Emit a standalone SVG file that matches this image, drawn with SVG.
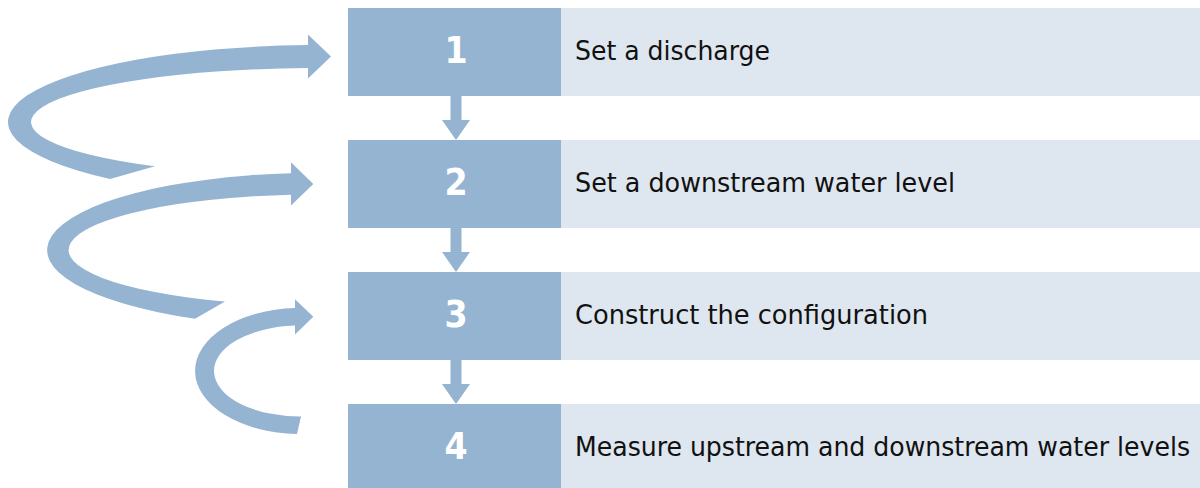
<svg xmlns="http://www.w3.org/2000/svg" width="1200" height="488" viewBox="0 0 1200 488">
<style>
.num{fill:#95b4d2}
.lbl{fill:#dee6ef}
.ntxt{font-family:"DejaVu Sans",sans-serif;font-stretch:condensed;font-weight:bold;font-size:37px;fill:#ffffff;text-anchor:middle}
.ltxt{font-family:"DejaVu Sans",sans-serif;font-stretch:condensed;font-size:26px;fill:#111111}
.arr{fill:#95b4d2}
</style>
<rect width="1200" height="488" fill="#ffffff"/>
<g id="connectors">
<path class="arr" d="M308 45.06 A312 77 0 0 0 110 178.95 L155 166.33 A289 54 0 0 1 308 68.05 L308 78.5 L331 56.5 L308 34.5 Z"/>
<path class="arr" d="M291 173.14 A273 77.3 0 0 0 195 318.7 L225 301.6 A251 55.7 0 0 1 291 194.67 L291 205.6 L313.3 183.9 L291 162.2 Z"/>
<path class="arr" d="M295 308.07 A105 63 0 0 0 297 433.97 L301 416.5 A86 45.5 0 0 1 295 325.58 L295 334.4 L313.3 316.8 L295 299.2 Z"/>
<path class="arr" d="M450.5 96 L461.5 96 L461.5 120 L470 120 L456 140 L442 120 L450.5 120 Z"/>
<path class="arr" d="M450.5 228 L461.5 228 L461.5 252 L470 252 L456 272 L442 252 L450.5 252 Z"/>
<path class="arr" d="M450.5 360 L461.5 360 L461.5 384 L470 384 L456 404 L442 384 L450.5 384 Z"/>
</g>
<g id="step1">
<rect class="num" x="348" y="8" width="213" height="88"/>
<rect class="lbl" x="561" y="8" width="639" height="88"/>
<text class="ntxt" x="456" y="63">1</text>
<text class="ltxt" x="575" y="60" textLength="195" lengthAdjust="spacingAndGlyphs">Set a discharge</text>
</g>
<g id="step2">
<rect class="num" x="348" y="140" width="213" height="88"/>
<rect class="lbl" x="561" y="140" width="639" height="88"/>
<text class="ntxt" x="456" y="195">2</text>
<text class="ltxt" x="575" y="192" textLength="380" lengthAdjust="spacingAndGlyphs">Set a downstream water level</text>
</g>
<g id="step3">
<rect class="num" x="348" y="272" width="213" height="88"/>
<rect class="lbl" x="561" y="272" width="639" height="88"/>
<text class="ntxt" x="456" y="327">3</text>
<text class="ltxt" x="575" y="324" textLength="353" lengthAdjust="spacingAndGlyphs">Construct the configuration</text>
</g>
<g id="step4">
<rect class="num" x="348" y="404" width="213" height="88"/>
<rect class="lbl" x="561" y="404" width="639" height="88"/>
<text class="ntxt" x="456" y="459">4</text>
<text class="ltxt" x="575" y="456" textLength="615" lengthAdjust="spacingAndGlyphs">Measure upstream and downstream water levels</text>
</g>
</svg>
